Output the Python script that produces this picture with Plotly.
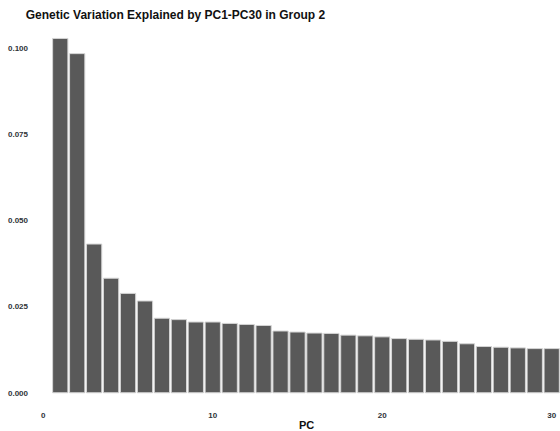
import plotly.graph_objects as go

# Proportion of genetic variance explained by each principal component
pcs = list(range(1, 31))
variance_explained = [
    0.1027, 0.0983, 0.0431, 0.0332, 0.0288, 0.0266, 0.0216, 0.0212, 0.0205, 0.0205,
    0.0201, 0.0198, 0.0195, 0.0179, 0.0176, 0.0173, 0.0172, 0.0167, 0.0165, 0.0162,
    0.0157, 0.0155, 0.0153, 0.0149, 0.0142, 0.0134, 0.0132, 0.0130, 0.0128, 0.0128,
]
y_ticks = [0.0, 0.025, 0.05, 0.075, 0.1]
y_tick_labels = ["0.000", "0.025", "0.050", "0.075", "0.100"]
x_ticks = [0, 10, 20, 30]

tick_font = dict(family="Liberation Sans, Arial, sans-serif", size=8, color="#2f3338", weight="bold")

fig = go.Figure(
    go.Bar(
        x=pcs,
        y=variance_explained,
        width=0.9,
        marker=dict(color="#595959", line=dict(color="#d4d4d4", width=1)),
        showlegend=False,
    )
)

fig.update_layout(
    width=560,
    height=431,
    margin=dict(l=35, r=0, t=35, b=31),
    paper_bgcolor="white",
    plot_bgcolor="white",
    title=dict(
        text="Genetic Variation Explained by PC1-PC30 in Group 2",
        font=dict(family="Liberation Sans, Arial, sans-serif", size=12, color="#111111", weight="bold"),
        xref="container", x=0.046, xanchor="left",
        yref="container", y=1 - 15 / 431, yanchor="middle",
    ),
    xaxis=dict(
        range=[-0.49, 30.49],
        tickvals=x_ticks,
        ticktext=[str(v) for v in x_ticks],
        showgrid=False, zeroline=False, showline=False, ticks="",
        tickfont=tick_font,
        ticklabelstandoff=9,
    ),
    yaxis=dict(
        range=[-0.0021, 0.1037],
        tickvals=y_ticks,
        ticktext=y_tick_labels,
        showgrid=False, zeroline=False, showline=False, ticks="",
        tickfont=tick_font,
        ticklabelstandoff=6,
    ),
    annotations=[
        dict(
            text="PC",
            xref="paper", yref="paper",
            x=(306 - 35) / 525, y=-(425 - 400) / 365,
            xanchor="center", yanchor="middle",
            showarrow=False,
            font=dict(family="Liberation Sans, Arial, sans-serif", size=11, color="#111111", weight="bold"),
        )
    ],
)

fig.write_html("out.html")
